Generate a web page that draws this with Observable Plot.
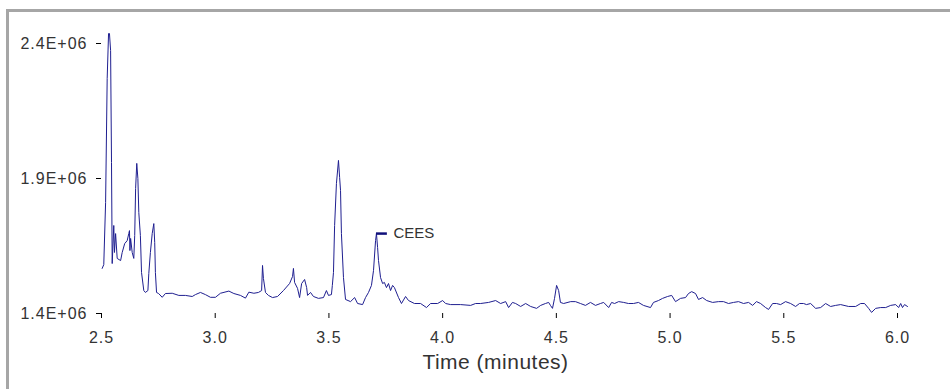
<!DOCTYPE html>
<html>
<head>
<meta charset="utf-8">
<script src="https://cdn.jsdelivr.net/npm/d3@7"></script>
<script src="https://cdn.jsdelivr.net/npm/@observablehq/plot@0.6"></script>
<style>
  html, body { margin: 0; padding: 0; background: #fff; }
  #wrap { position: relative; width: 950px; height: 389px; overflow: hidden; background: #fff; }
  #frame { position: absolute; left: 6px; top: 9px; width: 1000px; height: 500px; border: 3px solid #a6a6a6; box-sizing: border-box; }
  #chart { position: absolute; left: 0; top: 0; }
  #chart g[aria-label$="tick label"] { letter-spacing: 1px; }
  #chart g.xtitle { letter-spacing: 0.5px; }
</style>
</head>
<body>
<div id="wrap"><div id="frame"></div><div id="chart"></div></div>
<script>
// Retention time (minutes)
const times = [
  2.503,2.510,2.518,2.525,2.531,2.535,2.540,2.544,2.547,2.554,2.557,2.562,2.569,2.584,2.591,2.602,2.613,2.620,2.623,2.625,
  2.628,2.635,2.642,2.646,2.650,2.655,2.660,2.664,2.671,2.676,2.686,2.693,2.704,2.708,2.715,2.723,2.730,2.734,2.737,2.742,
  2.751,2.767,2.781,2.811,2.840,2.869,2.899,2.913,2.935,2.957,2.979,3.001,3.023,3.060,3.082,3.111,3.133,3.148,3.170,3.190,
  3.204,3.208,3.212,3.221,3.234,3.252,3.274,3.300,3.327,3.340,3.344,3.349,3.362,3.371,3.380,3.393,3.402,3.406,3.419,3.432,
  3.454,3.476,3.489,3.498,3.511,3.515,3.520,3.525,3.533,3.542,3.547,3.551,3.555,3.564,3.573,3.595,3.613,3.626,3.648,3.661,
  3.674,3.687,3.696,3.705,3.709,3.714,3.718,3.727,3.736,3.744,3.753,3.762,3.771,3.780,3.788,3.806,3.819,3.837,3.850,3.876,
  3.903,3.929,3.947,3.978,4.000,4.013,4.035,4.079,4.123,4.145,4.167,4.202,4.233,4.255,4.277,4.290,4.307,4.321,4.343,4.365,
  4.387,4.413,4.431,4.452,4.466,4.474,4.483,4.492,4.501,4.510,4.518,4.532,4.563,4.584,4.606,4.628,4.650,4.672,4.694,4.708,
  4.730,4.743,4.756,4.774,4.796,4.817,4.839,4.861,4.883,4.914,4.927,4.949,4.967,4.989,5.007,5.024,5.046,5.068,5.081,5.095,
  5.112,5.125,5.143,5.161,5.187,5.213,5.235,5.257,5.279,5.301,5.323,5.345,5.363,5.380,5.398,5.420,5.433,5.451,5.468,5.486,
  5.508,5.530,5.552,5.569,5.587,5.600,5.618,5.640,5.662,5.684,5.706,5.728,5.750,5.785,5.816,5.838,5.855,5.873,5.886,5.904,
  5.926,5.948,5.970,5.992,6.005,6.014,6.022,6.031,6.044
];
// Detector abundance
const abundance = [
  1567000,1581000,1811000,2270000,2437000,2437000,2374000,1959000,1585000,1726000,1626000,1696000,1604000,1596000,1626000,1659000,1670000,1696000,1707000,1633000,
  1678000,1626000,1604000,1689000,1863000,1956000,1900000,1774000,1689000,1552000,1485000,1478000,1485000,1548000,1626000,1696000,1733000,1663000,1552000,1478000,
  1474000,1460000,1474000,1475000,1467000,1467000,1463000,1470000,1478000,1470000,1460000,1460000,1475000,1483000,1474000,1467000,1457000,1479000,1475000,1478000,
  1485000,1578000,1530000,1478000,1467000,1459000,1463000,1485000,1511000,1537000,1567000,1515000,1493000,1459000,1511000,1526000,1496000,1467000,1478000,1463000,
  1456000,1459000,1485000,1467000,1470000,1504000,1552000,1726000,1881000,1967000,1904000,1856000,1696000,1533000,1452000,1444000,1459000,1437000,1433000,1459000,
  1478000,1504000,1559000,1670000,1696000,1644000,1596000,1533000,1511000,1515000,1496000,1511000,1485000,1504000,1496000,1459000,1437000,1463000,1448000,1437000,
  1437000,1422000,1437000,1437000,1448000,1437000,1433000,1433000,1430000,1437000,1437000,1441000,1448000,1437000,1444000,1422000,1441000,1437000,1426000,1437000,
  1426000,1419000,1430000,1437000,1441000,1430000,1419000,1456000,1504000,1485000,1441000,1437000,1444000,1444000,1437000,1430000,1441000,1430000,1437000,1441000,
  1422000,1441000,1437000,1444000,1441000,1437000,1437000,1441000,1430000,1422000,1441000,1448000,1456000,1463000,1467000,1444000,1456000,1459000,1474000,1481000,
  1474000,1452000,1459000,1448000,1441000,1444000,1444000,1437000,1441000,1444000,1437000,1441000,1430000,1444000,1437000,1422000,1415000,1437000,1437000,1433000,
  1444000,1437000,1426000,1437000,1437000,1433000,1437000,1419000,1422000,1437000,1426000,1430000,1433000,1426000,1426000,1437000,1437000,1419000,1404000,1419000,
  1422000,1422000,1430000,1433000,1422000,1437000,1422000,1433000,1426000
];
// Axis ticks
const xTicks = [2.5, 3.0, 3.5, 4.0, 4.5, 5.0, 5.5, 6.0];
const xTickLabels = ["2.5", "3.0", "3.5", "4.0", "4.5", "5.0", "5.5", "6.0"];
const yTicks = [1400000, 1900000, 2400000];
const yTickLabels = ["1.4E+06", "1.9E+06", "2.4E+06"];
const xTitle = ["Time (minutes)"];
// Peak annotation
const annotTime = [3.709];
const annotFlagEnd = [3.757];
const annotValue = [1696000];
const annotText = ["CEES"];

const series = times.map((t, i) => ({t, v: abundance[i]}));
const annot = annotText.map((s, i) => ({label: s, t: annotTime[i], t2: annotFlagEnd[i], v: annotValue[i]}));

const chart = Plot.plot({
  width: 950,
  height: 389,
  marginLeft: 101,
  marginRight: 53,
  marginTop: 43,
  marginBottom: 76,
  x: {domain: [2.5, 6.0]},
  y: {domain: [1400000, 2400000]},
  style: {fontFamily: "Arial, 'Liberation Sans', sans-serif", fontSize: "16px", background: "transparent", overflow: "visible"},
  marks: [
    Plot.axisY({ticks: yTicks, tickFormat: d => yTickLabels[yTicks.indexOf(d)], tickSize: 5, tickPadding: 9,
      fontSize: 16, label: null, line: true, stroke: "#000", fill: "#333"}),
    Plot.axisX({ticks: xTicks, tickFormat: d => xTickLabels[xTicks.indexOf(d)], tickSize: 5, tickPadding: 13,
      fontSize: 16, label: null, line: true, stroke: "#000", fill: "#333"}),
    Plot.text(xTitle, {frameAnchor: "bottom", dy: 55, dx: -4, fontSize: 21, fill: "#333", className: "xtitle"}),
    Plot.line(series, {x: "t", y: "v", stroke: "#1f1f90", strokeWidth: 1}),
    Plot.ruleY(annot, {x1: "t", x2: "t2", y: "v", stroke: "#10107a", strokeWidth: 2.5}),
    Plot.text(annot, {x: "t2", y: "v", text: "label", textAnchor: "start", dx: 6, fontSize: 15, fill: "#333"})
  ]
});
document.getElementById("chart").appendChild(chart);
</script>
</body>
</html>
